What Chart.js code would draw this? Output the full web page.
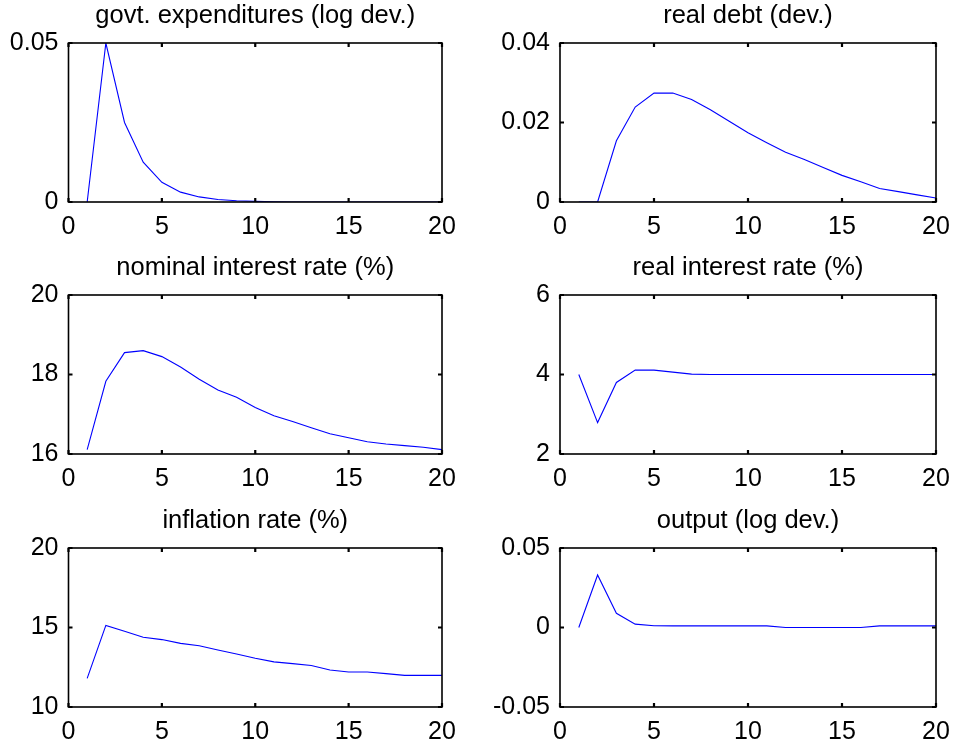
<!DOCTYPE html>
<html>
<head>
<meta charset="utf-8">
<script src="https://cdn.jsdelivr.net/npm/chart.js@4/dist/chart.umd.min.js"></script>
<style>
  html, body { margin: 0; padding: 0; background: #fff; width: 955px; height: 748px; overflow: hidden; }
  canvas { position: absolute; }
</style>
</head>
<body>
<canvas id="c1"></canvas>
<canvas id="c2"></canvas>
<canvas id="c3"></canvas>
<canvas id="c4"></canvas>
<canvas id="c5"></canvas>
<canvas id="c6"></canvas>
<script>
// ---- data ----
const periods = [1, 2, 3, 4, 5, 6, 7, 8, 9, 10, 11, 12, 13, 14, 15, 16, 17, 18, 19, 20];
const xTicks = [0, 5, 10, 15, 20];

const govtExpenditures = [0, 0.05, 0.025, 0.0125, 0.0062, 0.0031, 0.0016, 0.0008, 0.0004, 0.0002, 0.0001, 0, 0, 0, 0, 0, 0, 0, 0, 0];
const realDebt = [0, 0, 0.0154, 0.0239, 0.0274, 0.0274, 0.0258, 0.0232, 0.0203, 0.0174, 0.0149, 0.0125, 0.0107, 0.0087, 0.0067, 0.0051, 0.0034, 0.0026, 0.0018, 0.0010];
const nominalRate = [16.11, 17.83, 18.55, 18.60, 18.45, 18.19, 17.88, 17.61, 17.43, 17.17, 16.96, 16.82, 16.66, 16.51, 16.41, 16.31, 16.25, 16.21, 16.17, 16.11];
const realRate = [4.0, 2.79, 3.80, 4.11, 4.11, 4.06, 4.01, 4.0, 4.0, 4.0, 4.0, 4.0, 4.0, 4.0, 4.0, 4.0, 4.0, 4.0, 4.0, 4.0];
const inflationRate = [11.80, 15.13, 14.77, 14.39, 14.24, 14.00, 13.85, 13.58, 13.33, 13.07, 12.84, 12.73, 12.61, 12.33, 12.20, 12.20, 12.10, 11.99, 11.99, 11.99];
const outputDev = [0, 0.033, 0.0089, 0.0021, 0.0011, 0.001, 0.001, 0.001, 0.001, 0.001, 0.001, 0, 0, 0, 0, 0, 0.001, 0.001, 0.001, 0.001];

const titles = ['govt. expenditures (log dev.)', 'real debt (dev.)', 'nominal interest rate (%)', 'real interest rate (%)', 'inflation rate (%)', 'output (log dev.)'];
const yRanges = [[0, 0.05, 0.05], [0, 0.04, 0.02], [16, 20, 2], [2, 6, 2], [10, 20, 5], [-0.05, 0.05, 0.05]];
const seriesList = [govtExpenditures, realDebt, nominalRate, realRate, inflationRate, outputDev];

// ---- layout (positions, not data) ----
const FONT = '"Liberation Sans", Arial, sans-serif';
const cols = [
  { left: 0, width: 478, plotLeft: 68.5, plotRight: 442 },
  { left: 478, width: 477, plotLeft: 560, plotRight: 936 }
];
const rows = [
  { top: 0, height: 248 },
  { top: 252, height: 248 },
  { top: 505, height: 243 }
];
const TITLE_H = 43;
const PLOT_H = 159;

const boxPlugin = {
  id: 'matlabBox',
  afterDraw(chart) {
    const { ctx, chartArea: a, scales } = chart;
    ctx.save();
    ctx.strokeStyle = '#000';
    ctx.lineWidth = 1.6;
    ctx.strokeRect(a.left, a.top, a.right - a.left, a.bottom - a.top);
    ctx.lineWidth = 2.2;
    const L = 4;
    ctx.beginPath();
    scales.x.ticks.forEach(t => {
      const px = scales.x.getPixelForValue(t.value);
      ctx.moveTo(px, a.bottom); ctx.lineTo(px, a.bottom - L);
      ctx.moveTo(px, a.top); ctx.lineTo(px, a.top + L);
    });
    scales.y.ticks.forEach(t => {
      const py = scales.y.getPixelForValue(t.value);
      ctx.moveTo(a.left, py); ctx.lineTo(a.left + L, py);
      ctx.moveTo(a.right, py); ctx.lineTo(a.right - L, py);
    });
    ctx.stroke();
    ctx.restore();
  }
};

function fmt(v) { return String(+v.toFixed(4)); }

for (let i = 0; i < 6; i++) {
  const col = cols[i % 2];
  const row = rows[Math.floor(i / 2)];
  const cv = document.getElementById('c' + (i + 1));
  cv.width = col.width; cv.height = row.height;
  cv.style.left = col.left + 'px'; cv.style.top = row.top + 'px';
  cv.style.width = col.width + 'px'; cv.style.height = row.height + 'px';
  const yAxisW = col.plotLeft - col.left;
  const padRight = col.left + col.width - col.plotRight;
  const xAxisH = row.height - TITLE_H - PLOT_H;
  const [ymin, ymax, ystep] = yRanges[i];
  const vals = seriesList[i];

  new Chart(cv, {
    type: 'line',
    data: {
      datasets: [{
        data: periods.map((p, k) => ({ x: p, y: vals[k] })),
        borderColor: '#0000ff',
        borderWidth: 1.1,
        pointRadius: 0,
        tension: 0,
        fill: false
      }]
    },
    options: {
      responsive: false,
      animation: false,
      devicePixelRatio: 1,
      layout: { padding: { left: 0, right: padRight, top: 0, bottom: 0 } },
      plugins: {
        legend: { display: false },
        tooltip: { enabled: false },
        title: {
          display: true,
          text: titles[i],
          fullSize: false,
          color: '#000',
          font: { family: FONT, size: 25.5, weight: 'normal', lineHeight: 1.2 },
          padding: { top: 1, bottom: 11.4 }
        }
      },
      scales: {
        x: {
          type: 'linear',
          min: 0, max: 20,
          afterBuildTicks(s) { s.ticks = xTicks.map(v => ({ value: v })); },
          grid: { display: false, drawTicks: false },
          border: { display: false },
          ticks: { color: '#000', font: { family: FONT, size: 25 }, padding: 10, maxRotation: 0, autoSkip: false, callback: v => fmt(v) },
          afterFit(s) { s.height = xAxisH; s.paddingLeft = 0; s.paddingRight = 0; }
        },
        y: {
          type: 'linear',
          min: ymin, max: ymax,
          ticks: { stepSize: ystep, color: '#000', font: { family: FONT, size: 25 }, padding: 10, callback: v => fmt(v) },
          grid: { display: false, drawTicks: false },
          border: { display: false },
          afterFit(s) { s.width = yAxisW; s.paddingTop = 0; s.paddingBottom = 0; }
        }
      }
    },
    plugins: [boxPlugin]
  });
}
</script>
</body>
</html>
